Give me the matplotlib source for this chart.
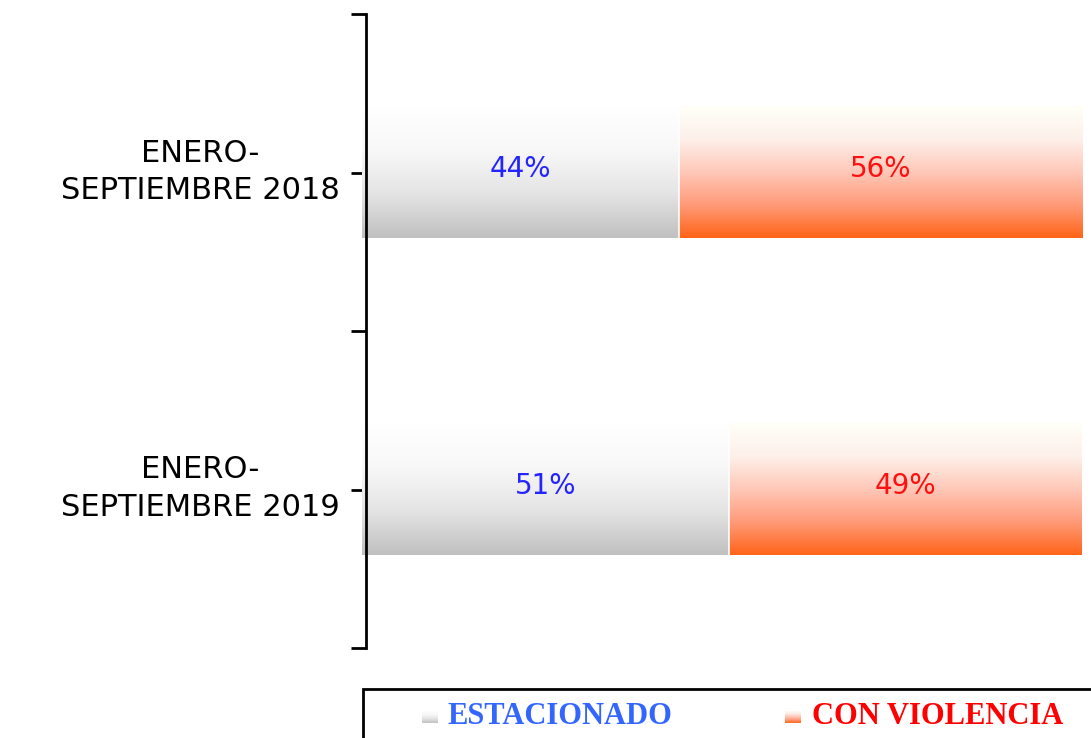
import numpy as np
import matplotlib.pyplot as plt
import matplotlib.transforms as mtransforms
from matplotlib.colors import LinearSegmentedColormap
from matplotlib.patches import Rectangle

# data
periods = ['ENERO-\nSEPTIEMBRE 2018', 'ENERO-\nSEPTIEMBRE 2019']
estacionado = [44, 51]
con_violencia = [56, 49]
series_names = ['ESTACIONADO', 'CON VIOLENCIA']

grey_cm = LinearSegmentedColormap.from_list('g', ['#ffffff', '#f8f8f8', '#e4e4e4', '#c0c0c0'])
orange_cm = LinearSegmentedColormap.from_list('o', ['#fffff8', '#fdf0ea', '#ffc8b8', '#ff9a78', '#ff6418'])
grad = np.linspace(0, 1, 256).reshape(-1, 1)

fig = plt.figure(figsize=(10.91, 7.38), dpi=100)
ax = fig.add_axes([362 / 1091, 1 - 648 / 738, 720 / 1091, 634 / 738])

ypos = [1.5, 0.5]
h = 0.415
bars1 = ax.barh(ypos, estacionado, height=h, color='none', edgecolor='none')
bars2 = ax.barh(ypos, con_violencia, left=estacionado, height=h, color='none', edgecolor='none')


def fill_grad(bars, cmap):
    # row 0 of the image is the top -> white at top
    for b in bars:
        x0, y0 = b.get_x(), b.get_y()
        ax.imshow(grad, cmap=cmap, aspect='auto',
                  extent=(x0, x0 + b.get_width(), y0, y0 + b.get_height()), zorder=2)


fill_grad(bars1, grey_cm)
fill_grad(bars2, orange_cm)
for b in bars2:
    ax.plot([b.get_x(), b.get_x()], [b.get_y(), b.get_y() + b.get_height()], color='white', lw=1.2, zorder=3)

for y, a, c in zip(ypos, estacionado, con_violencia):
    ax.text(a / 2, y + 0.01, f'{a}%', color='#2424ff', fontsize=20, ha='center', va='center',
            family='DejaVu Sans', zorder=4)
    ax.text(a + c / 2, y + 0.01, f'{c}%', color='#ff1010', fontsize=20, ha='center', va='center',
            family='DejaVu Sans', zorder=4)

ax.set_xlim(0, 100)
ax.set_ylim(0, 2)
for s in ['top', 'right', 'bottom']:
    ax.spines[s].set_visible(False)
ax.spines['left'].set_position(('data', 0.6))
ax.spines['left'].set_linewidth(2)
ax.spines['left'].set_zorder(5)
ax.set_xticks([])
ax.set_yticks(ypos)
ax.set_yticklabels(periods, fontsize=22, family='DejaVu Sans', multialignment='center',
                   linespacing=1.35)
ax.set_yticks([0, 1, 2], minor=True)
ax.tick_params(axis='y', which='both', length=11, width=2, pad=8)
# nudge labels up a little
shift = mtransforms.ScaledTranslation(0, 8 / 100, fig.dpi_scale_trans)
for lbl in ax.get_yticklabels():
    lbl.set_transform(lbl.get_transform() + shift)

# legend box
fig.add_artist(Rectangle((363 / 1091, -0.05), 0.7, 1 - 689 / 738 + 0.05, transform=fig.transFigure,
                         facecolor='white', edgecolor='black', lw=2, clip_on=False, zorder=1))
for name, cmap, mx, tx, col in [(series_names[0], grey_cm, 422, 447, '#3366ff'),
                                (series_names[1], orange_cm, 785, 812, '#ff0000')]:
    mk = fig.add_axes([mx / 1091, 1 - 723 / 738, 16 / 1091, 12 / 738])
    mk.imshow(grad, cmap=cmap, aspect='auto')
    mk.axis('off')
    mk.set_zorder(10)
    fig.text(tx / 1091, 1 - 717 / 738, name, color=col, fontsize=22, fontweight='bold',
             family='Liberation Serif', va='center', ha='left', zorder=11)

fig.savefig('out.png', dpi=100)
